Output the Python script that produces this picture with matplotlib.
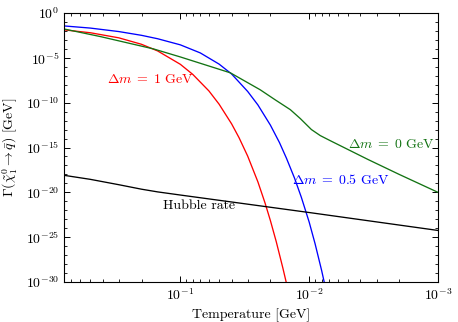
import matplotlib
matplotlib.use('Agg')
import matplotlib.pyplot as plt
from matplotlib.ticker import FixedLocator, LogLocator, NullFormatter
import numpy as np

plt.rcParams['font.family'] = 'serif'
plt.rcParams['font.serif'] = ['cmr10']
plt.rcParams['mathtext.fontset'] = 'cm'
plt.rcParams['axes.formatter.use_mathtext'] = True

# temperatures [GeV] and log10 of the rates
T_red = [0.8, 0.5, 0.3, 0.2, 0.15, 0.1, 0.08, 0.06, 0.05, 0.04, 0.035,
         0.03, 0.025, 0.022, 0.02, 0.018, 0.016, 0.015]
lg_red = [-1.88, -2.20, -2.77, -3.49, -4.23, -5.72, -6.85, -8.69, -10.17,
          -12.36, -13.91, -15.96, -18.83, -21.19, -23.14, -25.51, -28.44, -30.15]

T_blue = [0.8, 0.5, 0.3, 0.2, 0.15, 0.1, 0.07, 0.05, 0.04, 0.03, 0.025, 0.02,
          0.017, 0.015, 0.013, 0.0115, 0.01, 0.009, 0.008, 0.0074]
lg_blue = [-1.44, -1.68, -2.07, -2.49, -2.87, -3.55, -4.45, -5.7, -6.8,
           -8.75, -10.25, -12.5, -14.45, -16.2, -18.4, -20.55, -23.31,
           -25.72, -28.72, -30.91]

T_green = [0.8, 0.417, 0.162, 0.1, 0.0409, 0.024, 0.0184, 0.014, 0.0117,
           0.0096, 0.0082, 0.0069, 0.0035, 0.002, 0.001]
lg_green = [-1.78, -2.63, -4.0, -4.9, -6.67, -8.56, -9.67, -10.78, -11.78,
            -13.0, -13.67, -14.22, -16.33, -18.0, -20.0]

T_hub = [0.8, 0.5, 0.3, 0.2, 0.15, 0.1, 0.01, 0.001]
lg_hub = [-18.1, -18.55, -19.15, -19.65, -19.95, -20.3, -22.25, -24.25]

labels = [r'$\Delta m \;=\; 1$ GeV', r'$\Delta m \;=\; 0.5$ GeV',
          r'$\Delta m \;=\; 0$ GeV', 'Hubble rate']

fig = plt.figure(figsize=(4.58, 3.22), dpi=100)
ax = fig.add_axes([0.1397, 0.1242, 0.8166, 0.8354])

ax.plot(T_red, 10 ** np.array(lg_red), color='#ff0000', lw=0.95)
ax.plot(T_blue, 10 ** np.array(lg_blue), color='#0000ff', lw=0.95)
ax.plot(T_green, 10 ** np.array(lg_green), color='#137313', lw=0.95)
ax.plot(T_hub, 10 ** np.array(lg_hub), color='black', lw=0.95)

ax.set_xscale('log')
ax.set_yscale('log')
ax.set_xlim(0.8, 1e-3)
ax.set_ylim(1e-30, 1e0)

ax.yaxis.set_major_locator(FixedLocator([10.0 ** -k for k in range(0, 31, 5)]))
ax.yaxis.set_minor_locator(FixedLocator([10.0 ** -k for k in range(0, 31)]))
ax.yaxis.set_minor_formatter(NullFormatter())
ax.xaxis.set_major_locator(LogLocator(base=10))
ax.xaxis.set_minor_locator(LogLocator(base=10, subs=np.arange(2, 10)))
ax.xaxis.set_minor_formatter(NullFormatter())

ax.tick_params(which='both', direction='in', top=True, right=True, labelsize=10)
ax.tick_params(which='major', length=4.5, width=0.7)
ax.tick_params(which='minor', length=2.5, width=0.6)
for s in ax.spines.values():
    s.set_linewidth(0.8)

ax.text(0.171, 10 ** -7.44, labels[0], color='#ff0000', fontsize=10, ha='center', va='center')
ax.text(0.00565, 10 ** -18.67, labels[1], color='#0000ff', fontsize=10, ha='center', va='center')
ax.text(0.00231, 10 ** -14.67, labels[2], color='#137313', fontsize=10, ha='center', va='center')
ax.text(0.0713, 10 ** -21.56, labels[3], color='black', fontsize=10, ha='center', va='center')

ax.set_xlabel('Temperature [GeV]', fontsize=10)
ax.set_ylabel(r'$\Gamma(\tilde{\chi}_1^0 \to \bar{q})$ [GeV]', fontsize=10)

fig.savefig('out.png', dpi=100)
